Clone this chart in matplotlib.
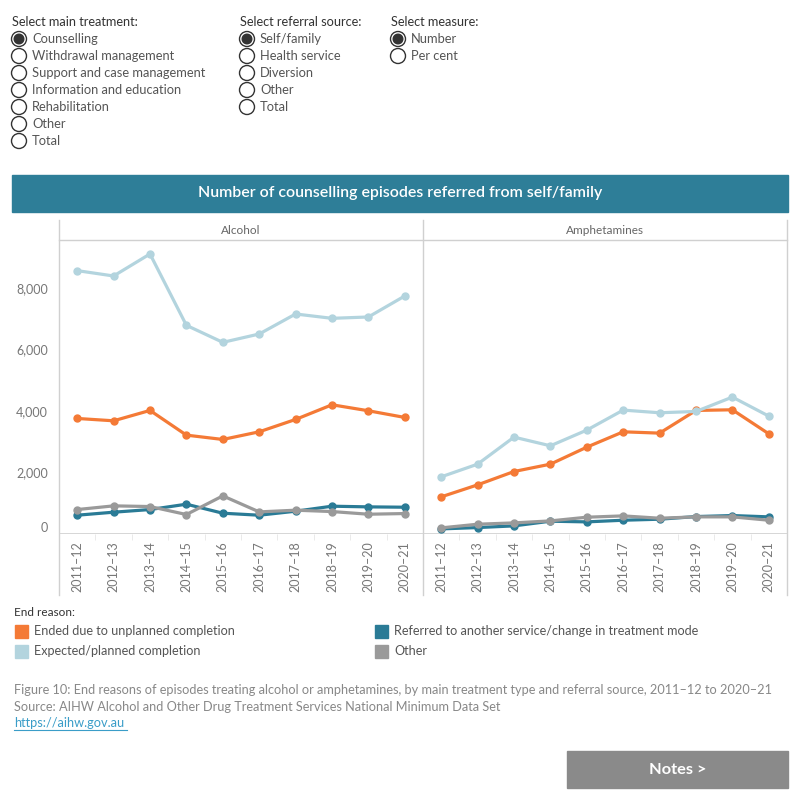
import matplotlib.pyplot as plt
from matplotlib.patches import Circle, Rectangle

plt.rcParams["font.family"] = ["Lato", "DejaVu Sans"]

# ── Data ────────────────────────────────────────────────────────────────
years = ["2011–12", "2012–13", "2013–14", "2014–15", "2015–16",
         "2016–17", "2017–18", "2018–19", "2019–20", "2020–21"]

alc_unplanned = [3757, 3681, 4018, 3215, 3074, 3323, 3725, 4202, 4007, 3790]
alc_planned = [8564, 8390, 9106, 6785, 6232, 6503, 7154, 7013, 7057, 7740]
alc_referred = [611, 709, 795, 969, 676, 611, 741, 904, 882, 871]
alc_other = [795, 915, 893, 633, 1240, 719, 774, 730, 643, 665]

amp_unplanned = [1208, 1598, 2032, 2271, 2824, 3323, 3280, 4018, 4039, 3258]
amp_planned = [1859, 2271, 3150, 2868, 3378, 4029, 3942, 3985, 4452, 3833]
amp_referred = [166, 209, 264, 416, 394, 448, 481, 567, 600, 557]
amp_other = [199, 318, 361, 426, 546, 589, 513, 557, 557, 448]

series_names = ["Ended due to unplanned completion", "Expected/planned completion",
                "Referred to another service/change in treatment mode", "Other"]
series_colors = ["#F47A36", "#B3D4DE", "#2A7B96", "#9A9A9A"]

treatments = ["Counselling", "Withdrawal management", "Support and case management",
              "Information and education", "Rehabilitation", "Other", "Total"]
referrals = ["Self/family", "Health service", "Diversion", "Other", "Total"]
measures = ["Number", "Per cent"]

W, H = 800, 800


def px_box(x0, y0, x1, y1):
    return [x0 / W, 1 - y1 / H, (x1 - x0) / W, (y1 - y0) / H]


fig = plt.figure(figsize=(8, 8), dpi=100)
ui = fig.add_axes([0, 0, 1, 1])
ui.set_xlim(0, W)
ui.set_ylim(H, 0)
ui.axis("off")

# ── Radio button filters ────────────────────────────────────────────────
def radio_group(x, title, options, selected=0):
    ui.text(x, 22, title, fontsize=9.2, color="#333333", va="center")
    for i, opt in enumerate(options):
        cy = 39 + i * 17
        ui.add_patch(Circle((x + 7, cy), 7.5, fill=False, ec="#333333", lw=1.0))
        if i == selected:
            ui.add_patch(Circle((x + 7, cy), 4.8, color="#333333"))
        ui.text(x + 20, cy, opt, fontsize=9.25, color="#555555", va="center")


radio_group(12, "Select main treatment:", treatments)
radio_group(240, "Select referral source:", referrals)
radio_group(391, "Select measure:", measures)

# ── Title banner ────────────────────────────────────────────────────────
ui.add_patch(Rectangle((12, 175), 776, 37, color="#2E7E98"))
ui.text(400, 193.5, "Number of counselling episodes referred from self/family",
        fontsize=11.4, color="white", ha="center", va="center", fontweight="semibold")

# ── Panel frame ─────────────────────────────────────────────────────────
frame = "#D0D0D0"
for x in (59, 423, 787):
    ui.plot([x, x], [220, 595], color=frame, lw=1)
ui.plot([59, 787], [240, 240], color=frame, lw=1)
ui.text(241, 230, "Alcohol", fontsize=8.5, color="#666666", ha="center", va="center")
ui.text(605, 230, "Amphetamines", fontsize=8.5, color="#666666", ha="center", va="center")

# ── Line panels ─────────────────────────────────────────────────────────
panels = [
    (px_box(59, 240, 423, 534), [alc_unplanned, alc_planned, alc_referred, alc_other], True),
    (px_box(423, 240, 787, 534), [amp_unplanned, amp_planned, amp_referred, amp_other], False),
]
x = list(range(len(years)))
for box, data, show_y in panels:
    ax = fig.add_axes(box)
    ax.set_facecolor("none")
    for vals, color in zip(data, series_colors):
        ax.plot(x, vals, color=color, lw=2.3, marker="o", ms=5, zorder=3)
    ax.set_xlim(-0.5, 9.5)
    ax.set_ylim(0, 9560)
    for s in ax.spines.values():
        s.set_visible(False)
    ax.axhline(0, color=frame, lw=1.2, zorder=1)
    ax.set_xticks(x)
    ax.set_xticklabels(years, rotation=90, fontsize=9, color="#777777")
    ax.set_xticks([i + 0.5 for i in x[:-1]], minor=True)
    ax.tick_params(axis="x", which="major", length=0, pad=5)
    ax.tick_params(axis="x", which="minor", length=4, color="#E6E6E6")
    ax.set_yticks([0, 2000, 4000, 6000, 8000])
    if show_y:
        ax.set_yticklabels([f"{v:,}" for v in [0, 2000, 4000, 6000, 8000]],
                           fontsize=9, color="#777777")
        ax.get_yticklabels()[0].set_va("bottom")
        ax.tick_params(axis="y", length=0, pad=8)
    else:
        ax.tick_params(axis="y", length=0, labelleft=False)

# ── Legend ──────────────────────────────────────────────────────────────
ui.text(14, 613, "End reason:", fontsize=8.5, color="#333333", va="center")
legend_pos = [(15, 631), (15, 651), (375, 631), (375, 651)]
for (lx, ly), name, color in zip(legend_pos, series_names, series_colors):
    ui.add_patch(Rectangle((lx, ly - 6.5), 13, 13, color=color))
    ui.text(lx + 19, ly, name, fontsize=9.1, color="#555555", va="center")

# ── Footer ──────────────────────────────────────────────────────────────
ui.text(14, 690, "Figure 10: End reasons of episodes treating alcohol or amphetamines, "
        "by main treatment type and referral source, 2011–12 to 2020–21",
        fontsize=9.2, color="#888888", va="center")
ui.text(14, 707, "Source: AIHW Alcohol and Other Drug Treatment Services National Minimum Data Set",
        fontsize=9.2, color="#888888", va="center")
ui.text(14, 723, "https://aihw.gov.au", fontsize=9.2, color="#3A9DC8", va="center")
ui.plot([14, 127], [730, 730], color="#3A9DC8", lw=0.8)

ui.add_patch(Rectangle((567, 751), 221, 37, color="#8A8A8A"))
ui.text(678, 770, "Notes >", fontsize=11.8, color="white", ha="center", va="center",
        fontweight="bold")

fig.savefig("out.png", dpi=100)
